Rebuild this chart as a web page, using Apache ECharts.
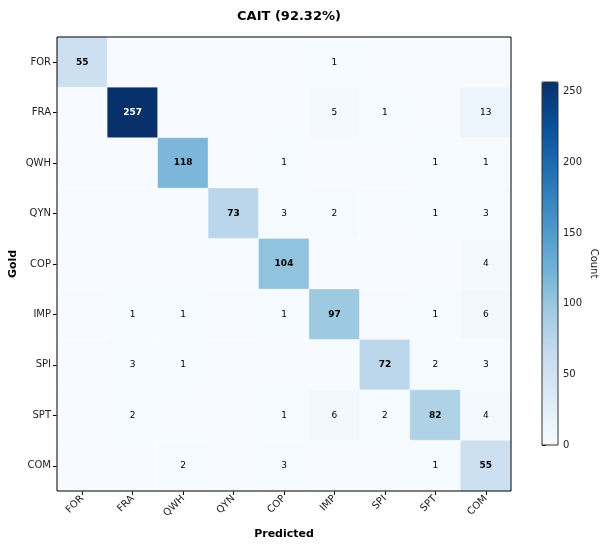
<!DOCTYPE html>
<html><head><meta charset="utf-8">
<script src="https://cdn.jsdelivr.net/npm/echarts@6/dist/echarts.min.js"></script>
<style>html,body{margin:0;padding:0;background:#fff}#c{width:600px;height:546px}</style>
</head><body><div id="c"></div>
<script>
const titleText = "CAIT (92.32%)";
const labels = ["FOR","FRA","QWH","QYN","COP","IMP","SPI","SPT","COM"];
const matrix = [
  [55,0,0,0,0,1,0,0,0],
  [0,257,0,0,0,5,1,0,13],
  [0,0,118,0,1,0,0,1,1],
  [0,0,0,73,3,2,0,1,3],
  [0,0,0,0,104,0,0,0,4],
  [0,1,1,0,1,97,0,1,6],
  [0,3,1,0,0,0,72,2,3],
  [0,2,0,0,1,6,2,82,4],
  [0,0,2,0,3,0,0,1,55]
];
const colorbarTicks = [0,50,100,150,200,250];
const blues = ['#f7fbff','#deebf7','#c6dbef','#9ecae1','#6baed6','#4292c6','#2171b5','#08519c','#08306b'];

const vmax = Math.max(...matrix.flat());
const data = [];
matrix.forEach((row,i)=>row.forEach((v,j)=>data.push({value:[j,i,v],label:{
  fontWeight:i===j?'bold':'normal',color:v>vmax/2?'#fff':'#000'}})));
const font = 'DejaVu Sans';
const chart = echarts.init(document.getElementById('c'), null, {renderer:'canvas'});
chart.setOption({
  animation:false,
  textStyle:{fontFamily:font},
  title:{text:titleText,left:284,top:5,textAlign:'center',textStyle:{fontFamily:font,fontSize:13,fontWeight:'bold',color:'#000'}},
  grid:[
    {left:57,top:37,width:454,height:454,show:true,borderColor:'#000',borderWidth:1,backgroundColor:'transparent',z:10,containLabel:false,outerBoundsMode:'none'},
    {left:542,top:82,width:16,height:363,show:true,borderColor:'#333',borderWidth:1,backgroundColor:'transparent',z:10,containLabel:false,outerBoundsMode:'none'}
  ],
  xAxis:[
    {type:'category',data:labels,gridIndex:0,position:'bottom',
     axisLine:{show:false},axisTick:{show:true,alignWithLabel:true,length:4,lineStyle:{color:'#000'}},
     axisLabel:{rotate:45,fontSize:10,color:'#222',margin:6,fontFamily:font},
     splitLine:{show:false},
     name:'Predicted',nameLocation:'middle',nameGap:38,nameTextStyle:{fontWeight:'bold',fontSize:11,color:'#000',fontFamily:font}},
    {type:'value',gridIndex:1,show:false,min:0,max:1}
  ],
  yAxis:[
    {type:'category',data:labels,gridIndex:0,inverse:true,
     axisLine:{show:false},axisTick:{show:true,alignWithLabel:true,length:4,lineStyle:{color:'#000'}},
     axisLabel:{fontSize:10,color:'#222',margin:6,fontFamily:font},
     splitLine:{show:false},nameMoveOverlap:false,
     name:'Gold',nameLocation:'middle',nameGap:38,nameRotate:90,nameTextStyle:{fontWeight:'bold',fontSize:11,color:'#000',fontFamily:font}},
    {type:'value',gridIndex:1,position:'right',min:0,max:vmax,interval:50,
     axisLine:{show:false},axisTick:{show:true,length:4,lineStyle:{color:'#000'}},
     axisLabel:{fontSize:10,color:'#222',margin:5,showMaxLabel:false,fontFamily:font,
       formatter:v=>colorbarTicks.includes(v)?String(v):''},
     splitLine:{show:false},
     name:'Count',nameLocation:'middle',nameGap:31,nameRotate:-90,nameTextStyle:{fontSize:10,color:'#222',fontFamily:font}}
  ],
  visualMap:{type:'continuous',min:0,max:vmax,calculable:false,show:true,seriesIndex:0,
    left:542,top:82,itemWidth:16,itemHeight:363,text:null,showLabel:false,
    inRange:{color:blues},hoverLink:false,padding:0,textStyle:{fontSize:0}},
  series:[{
    type:'heatmap',xAxisIndex:0,yAxisIndex:0,data:data,
    itemStyle:{borderColor:'rgba(255,255,255,0.5)',borderWidth:0.6},
    label:{show:true,fontFamily:font,fontSize:9,
      formatter:p=>p.value[2]===0?'':String(p.value[2])},
    emphasis:{disabled:true}
  }]
});
</script></body></html>
